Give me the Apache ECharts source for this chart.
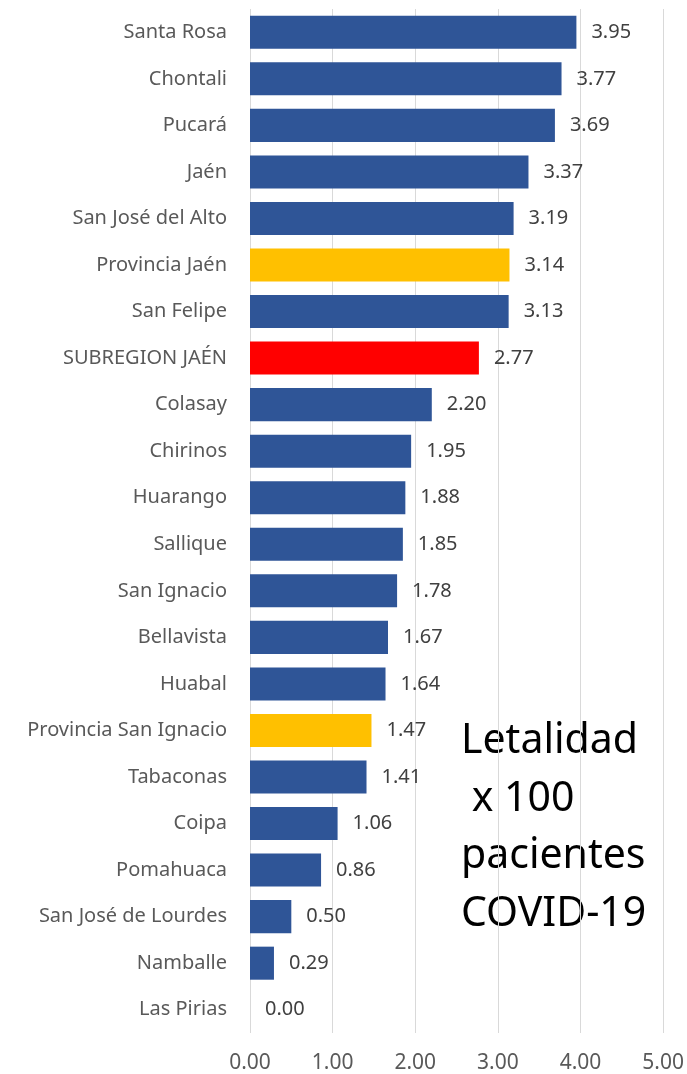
<!DOCTYPE html>
<html>
<head>
<meta charset="utf-8">
<script src="https://cdn.jsdelivr.net/npm/echarts@6/dist/echarts.min.js"></script>
<style>
  html, body { margin: 0; padding: 0; background: #fff; }
  #chart { width: 687px; height: 1074px; }
</style>
</head>
<body>
<div id="chart"></div>
<script>
// distritos, de mayor a menor letalidad
const categories = [
  'Santa Rosa', 'Chontali', 'Pucará', 'Jaén', 'San José del Alto',
  'Provincia Jaén', 'San Felipe', 'SUBREGION JAÉN', 'Colasay', 'Chirinos',
  'Huarango', 'Sallique', 'San Ignacio', 'Bellavista', 'Huabal',
  'Provincia San Ignacio', 'Tabaconas', 'Coipa', 'Pomahuaca',
  'San José de Lourdes', 'Namballe', 'Las Pirias'
]
const letalidad = [
  3.95, 3.77, 3.69, 3.37, 3.19,
  3.14, 3.13, 2.77, 2.20, 1.95,
  1.88, 1.85, 1.78, 1.67, 1.64,
  1.47, 1.41, 1.06, 0.86,
  0.50, 0.29, 0.00
]
const provincias = ['Provincia Jaén', 'Provincia San Ignacio']
const subregion = 'SUBREGION JAÉN'
const xTicks = [0, 1, 2, 3, 4, 5]

const font = '"Noto Sans", sans-serif'

function barColor(name) {
  if (name === subregion) return '#ff0000'
  if (provincias.indexOf(name) !== -1) return '#ffc000'
  return '#2f5597'
}

const chart = echarts.init(document.getElementById('chart'))
chart.setOption({
  animation: false,
  textStyle: { fontFamily: font },
  grid: { left: 250, right: 23, top: 9, bottom: 41 },
  xAxis: {
    type: 'value',
    min: xTicks[0],
    max: xTicks[xTicks.length - 1],
    interval: 1,
    axisLine: { show: false },
    axisTick: { show: false },
    splitLine: { lineStyle: { color: '#d9d9d9', width: 1 } },
    axisLabel: {
      margin: 20,
      fontSize: 21,
      color: '#595959',
      fontFamily: font,
      formatter: v => v.toFixed(2)
    }
  },
  yAxis: {
    type: 'category',
    inverse: true,
    data: categories,
    axisLine: { show: false },
    axisTick: { show: false },
    axisLabel: {
      margin: 23,
      fontSize: 20,
      color: '#595959',
      fontFamily: font
    }
  },
  series: [{
    type: 'bar',
    barCategoryGap: '29%',
    data: letalidad.map((v, i) => ({
      value: v,
      itemStyle: { color: barColor(categories[i]) }
    })),
    label: {
      show: true,
      position: 'right',
      distance: 15,
      fontSize: 20,
      color: '#404040',
      fontFamily: font,
      formatter: p => p.value.toFixed(2)
    }
  }],
  graphic: [{
    type: 'text',
    left: 461,
    top: 713,
    style: {
      text: 'Letalidad\n x 100\npacientes\nCOVID-19',
      font: '41px ' + font,
      fill: '#000',
      lineHeight: 57.5
    }
  }]
})
</script>
</body>
</html>
